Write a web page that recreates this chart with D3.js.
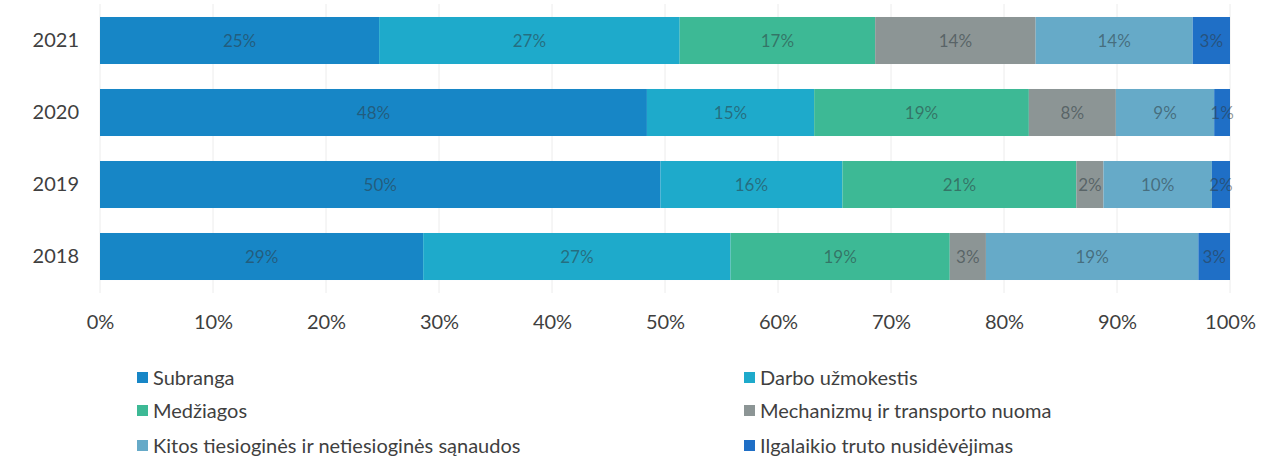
<!DOCTYPE html>
<html>
<head>
<meta charset="utf-8">
<script src="https://cdn.jsdelivr.net/npm/d3@7"></script>
<style>
  body { margin: 0; background: #fff; }
  svg { display: block; font-family: Lato, "Open Sans", sans-serif; }
</style>
</head>
<body>
<svg id="chart" width="1285" height="466"></svg>
<script>

const years = ['2021', '2020', '2019', '2018']

const series = [
    'Subranga',
    'Darbo užmokestis',
    'Medžiagos',
    'Mechanizmų ir transporto nuoma',
    'Kitos tiesioginės ir netiesioginės sąnaudos',
    'Ilgalaikio truto nusidėvėjimas'
]

// shares per year, same order as series
const subranga = [24.7, 48.4, 49.6, 28.6]
const darbo = [26.6, 14.8, 16.1, 27.2]
const medziagos = [17.3, 19.0, 20.7, 19.4]
const mechanizmai = [14.2, 7.7, 2.4, 3.2]
const kitos = [13.9, 8.7, 9.6, 18.8]
const ilgalaikis = [3.3, 1.4, 1.6, 2.8]

const ticks = [0, 0.1, 0.2, 0.3, 0.4, 0.5, 0.6, 0.7, 0.8, 0.9, 1]

const colors = ['#1786c6', '#1eaacb', '#3db995', '#8c9595', '#66aac8', '#1f6fc6']

const cols = [subranga, darbo, medziagos, mechanizmai, kitos, ilgalaikis]
const rows = years.map((y, i) => {
    const r = { year: y }
    series.forEach((s, j) => { r[s] = cols[j][i] })
    return r
})

const stack = d3.stack().keys(series).offset(d3.stackOffsetExpand)
const layers = stack(rows)

const svg = d3.select('#chart')

const x = d3.scaleLinear().domain([0, 1]).range([100, 1230])
const y = d3.scaleBand().domain(years).range([4.5, 292.5]).paddingInner(0.347).paddingOuter(0.1735)

// grid
svg.append('g').attr('id', 'grid')
    .selectAll('line').data(ticks).enter().append('line')
    .attr('x1', d => x(d)).attr('x2', d => x(d))
    .attr('y1', 4).attr('y2', 293)
    .attr('stroke', '#ececec').attr('stroke-width', 1)

const g = svg.append('g').attr('id', 'bars')

layers.forEach((layer, j) => {
    g.append('g').selectAll('rect').data(layer).enter().append('rect')
        .attr('x', d => x(d[0]))
        .attr('width', d => x(d[1]) - x(d[0]))
        .attr('y', d => y(d.data.year))
        .attr('height', y.bandwidth())
        .attr('fill', colors[j])
})

// value labels
layers.forEach((layer, j) => {
    g.append('g').selectAll('text').data(layer).enter().append('text')
        .attr('x', d => (x(d[0]) + x(d[1])) / 2)
        .attr('y', d => y(d.data.year) + y.bandwidth() / 2)
        .attr('dy', '0.36em')
        .attr('text-anchor', 'middle')
        .attr('font-size', 17)
        .attr('fill', '#2d3a40')
        .attr('fill-opacity', 0.55)
        .text(d => Math.round(d.data[series[j]]) + '%')
})

// axes
const xf = d3.axisBottom(x).tickValues(ticks).tickFormat(d3.format('.0%')).tickSize(0).tickPadding(0)
const xg = svg.append('g').attr('id', 'xg').attr('transform', 'translate(0,331)').call(xf)
xg.selectAll('.tick text').attr('font-size', 20).attr('fill', '#3f3f3f').attr('font-family', 'Lato, sans-serif').attr('dy', '-0.1em')

const yf = d3.axisLeft(y).tickSize(0).tickPadding(0)
const yg = svg.append('g').attr('id', 'yg').attr('transform', 'translate(79,0)').call(yf)
yg.selectAll('.tick text').attr('font-size', 20).attr('fill', '#3f3f3f').attr('font-family', 'Lato, sans-serif')

svg.selectAll('.domain').remove()

// legend
const legend = svg.append('g').attr('id', 'legend')
const items = legend.selectAll('g').data(series).enter().append('g')
    .attr('transform', (d, i) => 'translate(' + (i % 2 ? 744 : 137) + ',' + [378, 411, 446][Math.floor(i / 2)] + ')')

items.append('rect')
    .attr('x', 0).attr('y', -6).attr('width', 11).attr('height', 11)
    .attr('fill', (d, i) => colors[i])

items.append('text')
    .attr('x', 16).attr('dy', '0.35em')
    .attr('font-size', 20).attr('fill', '#3f3f3f')
    .text(d => d)

</script>
</body>
</html>
